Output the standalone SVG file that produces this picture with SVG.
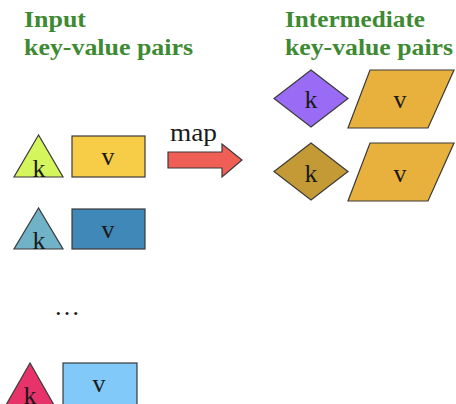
<svg xmlns="http://www.w3.org/2000/svg" width="456" height="404" viewBox="0 0 456 404">
<style>
.title{font-family:"Liberation Serif","DejaVu Serif",serif;font-weight:bold;font-size:23px;fill:#3d8a32}
.lbl{font-family:"Liberation Serif","DejaVu Serif",serif;font-size:26px;fill:#1a1a1a;text-anchor:middle}
.shape{stroke:#3a3a3a;stroke-width:1.2;stroke-linejoin:miter}
</style>
<rect width="456" height="404" fill="#ffffff"/>
<g id="title-input">
<text class="title" x="24" y="27" textLength="62" lengthAdjust="spacingAndGlyphs">Input</text>
<text class="title" x="24" y="55" textLength="169" lengthAdjust="spacingAndGlyphs">key-value pairs</text>
</g>
<g id="title-intermediate">
<text class="title" x="285" y="27" textLength="140" lengthAdjust="spacingAndGlyphs">Intermediate</text>
<text class="title" x="285" y="55" textLength="168" lengthAdjust="spacingAndGlyphs">key-value pairs</text>
</g>
<g id="input1">
<polygon class="shape" points="38.5,135 14,177 63,177" fill="#d4f55c"/>
<text class="lbl" x="39" y="177">k</text>
<rect class="shape" x="72" y="136" width="73" height="41" fill="#f7cd48"/>
<text class="lbl" x="108" y="165">v</text>
</g>
<g id="input2">
<polygon class="shape" points="38.5,208 14,249 63,249" fill="#70b2c7"/>
<text class="lbl" x="39" y="249">k</text>
<rect class="shape" x="72" y="209" width="73" height="40" fill="#3f88b7"/>
<text class="lbl" x="108" y="238">v</text>
</g>
<g id="ellipsis">
<text class="lbl" x="67" y="315" textLength="26" lengthAdjust="spacing">…</text>
</g>
<g id="input3">
<polygon class="shape" points="30,363 6,405 54,405" fill="#e8336a"/>
<text class="lbl" x="30" y="404">k</text>
<rect class="shape" x="63" y="363" width="74" height="42" fill="#80c9f8"/>
<text class="lbl" x="99" y="392">v</text>
</g>
<g id="map">
<polygon class="shape" points="168,152 222,152 222,144 242,160 222,177 222,168 168,168" fill="#ef5f56"/>
<text class="lbl" x="193.5" y="141" textLength="47" lengthAdjust="spacingAndGlyphs">map</text>
</g>
<g id="inter1">
<polygon class="shape" points="311,70 348,98.5 311,127 274,98.5" fill="#9a6cf6"/>
<text class="lbl" x="311" y="108">k</text>
<polygon class="shape" points="370,70 454,70 428,128 348,128" fill="#e8b03c"/>
<text class="lbl" x="400" y="108">v</text>
</g>
<g id="inter2">
<polygon class="shape" points="311,143 348,171.5 311,200 274,171.5" fill="#c49a36"/>
<text class="lbl" x="311" y="182">k</text>
<polygon class="shape" points="370,143 454,143 428,201 348,201" fill="#e8b03c"/>
<text class="lbl" x="400" y="182">v</text>
</g>
</svg>
